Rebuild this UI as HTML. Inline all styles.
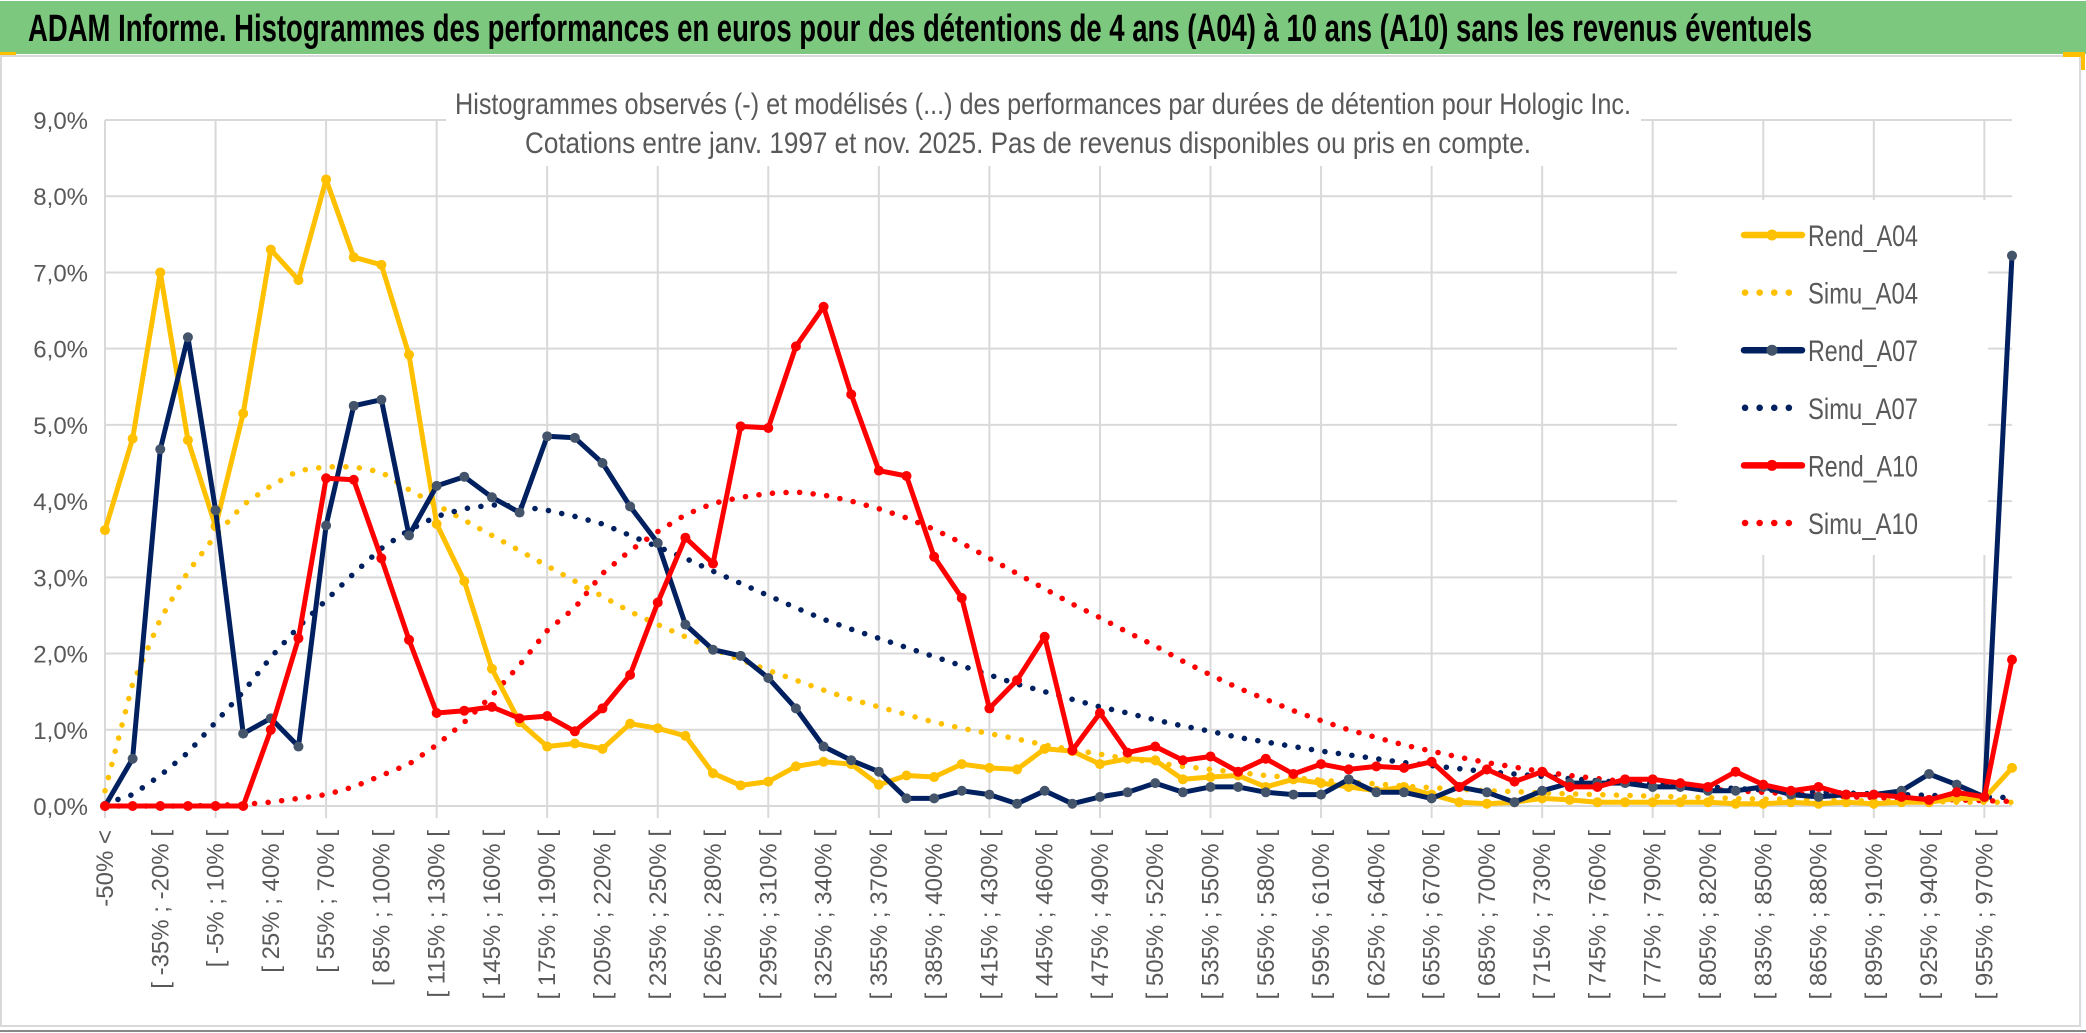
<!DOCTYPE html>
<html><head><meta charset="utf-8"><style>
html,body{margin:0;padding:0;background:#fff;}
svg{display:block;font-family:"Liberation Sans",sans-serif;}
</style></head><body>
<svg id="chart" width="2086" height="1033" viewBox="0 0 2086 1033">
<rect x="0" y="0" width="2086" height="1033" fill="#fff"/>
<rect x="0" y="1" width="2086" height="53" fill="#7DC87F"/>
<text x="28" y="41" font-size="38" font-weight="bold" fill="#000" textLength="1784" lengthAdjust="spacingAndGlyphs">ADAM Informe. Histogrammes des performances en euros pour des détentions de 4 ans (A04) à 10 ans (A10) sans les revenus éventuels</text>
<rect x="1" y="56" width="2079" height="970" fill="none" stroke="#d9d9d9" stroke-width="2"/>
<line x1="0" y1="1031" x2="2086" y2="1031" stroke="#888" stroke-width="2"/>
<rect x="2063" y="52" width="20" height="5" fill="#FFC000"/><rect x="2081" y="52" width="4" height="18" fill="#FFC000"/>
<rect x="0" y="52" width="16" height="3" fill="#FFC000"/>
<g id="grid"></g>
<rect x="446" y="78" width="1195" height="88" fill="#fff"/>
<text x="1043" y="114" font-size="30" fill="#595959" text-anchor="middle" textLength="1176" lengthAdjust="spacingAndGlyphs">Histogrammes observés (-) et modélisés (...) des performances par durées de détention pour Hologic Inc.</text>
<text x="1028" y="153" font-size="30" fill="#595959" text-anchor="middle" textLength="1006" lengthAdjust="spacingAndGlyphs">Cotations entre janv. 1997 et nov. 2025. Pas de revenus disponibles ou pris en compte.</text>
<g id="yaxis"></g>
<g id="xaxis"></g>
<g id="series"></g>
<g id="legend"></g>
</svg>
<script>
const categories = ["-50% <"];
for (let i = 1; i < 69; i++) { categories.push("[ " + (-50 + (i - 1) * 15) + "% ; " + (-50 + i * 15) + "% ["); }
categories.push("> 970%");
const yTicks = [0,1,2,3,4,5,6,7,8,9];
const rendA04 = [3.62,4.82,7.0,4.8,3.67,5.15,7.3,6.9,8.22,7.2,7.1,5.92,3.7,2.95,1.8,1.1,0.78,0.82,0.75,1.08,1.02,0.92,0.43,0.27,0.32,0.52,0.58,0.55,0.28,0.4,0.38,0.55,0.5,0.48,0.75,0.72,0.55,0.62,0.6,0.35,0.38,0.4,0.25,0.35,0.3,0.25,0.2,0.25,0.15,0.05,0.03,0.05,0.1,0.08,0.05,0.05,0.05,0.05,0.05,0.03,0.03,0.05,0.03,0.05,0.03,0.05,0.05,0.1,0.1,0.5];
const simuA04 = [0.2,1.6,2.45,3.07,3.55,3.95,4.2,4.4,4.45,4.45,4.38,4.15,3.95,3.75,3.55,3.35,3.15,2.95,2.75,2.55,2.38,2.22,2.06,1.92,1.78,1.65,1.52,1.4,1.3,1.2,1.1,1.02,0.95,0.88,0.8,0.74,0.68,0.62,0.57,0.52,0.48,0.44,0.4,0.37,0.34,0.31,0.29,0.26,0.24,0.22,0.2,0.19,0.17,0.16,0.15,0.14,0.13,0.12,0.11,0.1,0.09,0.09,0.08,0.07,0.07,0.06,0.06,0.05,0.05,0.05];
const rendA07 = [0.0,0.62,4.68,6.15,3.88,0.95,1.15,0.78,3.68,5.25,5.33,3.55,4.2,4.32,4.05,3.85,4.85,4.83,4.5,3.93,3.45,2.38,2.05,1.97,1.68,1.28,0.78,0.6,0.45,0.1,0.1,0.2,0.15,0.03,0.2,0.03,0.12,0.18,0.3,0.18,0.25,0.25,0.18,0.15,0.15,0.35,0.18,0.18,0.1,0.25,0.18,0.05,0.2,0.3,0.3,0.3,0.25,0.25,0.2,0.2,0.25,0.15,0.12,0.15,0.15,0.2,0.42,0.28,0.12,7.22];
const simuA07 = [0.03,0.15,0.4,0.7,1.1,1.5,1.95,2.35,2.7,3.05,3.38,3.62,3.8,3.9,3.95,3.93,3.88,3.8,3.7,3.55,3.4,3.25,3.08,2.92,2.76,2.6,2.45,2.32,2.2,2.08,1.96,1.84,1.72,1.6,1.5,1.4,1.3,1.22,1.13,1.05,0.98,0.9,0.84,0.78,0.72,0.67,0.62,0.57,0.53,0.49,0.45,0.42,0.39,0.36,0.33,0.31,0.29,0.27,0.25,0.23,0.21,0.2,0.18,0.17,0.16,0.15,0.14,0.13,0.12,0.11];
const rendA10 = [0,0,0,0,0,0,1.0,2.2,4.3,4.28,3.25,2.18,1.22,1.25,1.3,1.15,1.18,0.98,1.28,1.72,2.67,3.52,3.18,4.98,4.96,6.03,6.55,5.4,4.4,4.33,3.27,2.73,1.28,1.65,2.22,0.73,1.22,0.7,0.78,0.6,0.65,0.45,0.62,0.42,0.55,0.48,0.52,0.5,0.58,0.25,0.48,0.32,0.45,0.25,0.25,0.35,0.35,0.3,0.25,0.45,0.28,0.2,0.25,0.15,0.15,0.12,0.08,0.18,0.12,1.92];
const simuA10 = [0,0,0,0,0.01,0.02,0.05,0.1,0.15,0.25,0.4,0.55,0.8,1.1,1.45,1.85,2.3,2.6,3.05,3.35,3.6,3.82,3.97,4.05,4.1,4.12,4.08,4.0,3.9,3.78,3.63,3.45,3.25,3.05,2.85,2.65,2.47,2.28,2.1,1.9,1.72,1.55,1.4,1.25,1.12,1.0,0.9,0.8,0.72,0.64,0.57,0.51,0.45,0.4,0.36,0.32,0.28,0.25,0.22,0.2,0.18,0.16,0.14,0.12,0.11,0.1,0.09,0.08,0.07,0.06];

const NS = "http://www.w3.org/2000/svg";
const X0 = 105, X1 = 2012, Y0 = 806, YTOP = 120, YMAX = 9;
function xPos(i){ return X0 + i * (X1 - X0) / (categories.length - 1); }
function yPos(v){ return Y0 - v / YMAX * (Y0 - YTOP); }
function mk(tag, attrs, parent){ const e = document.createElementNS(NS, tag); for (const k in attrs) e.setAttribute(k, attrs[k]); parent.appendChild(e); return e; }

const grid = document.getElementById("grid");
yTicks.forEach(t => {
  const l = mk("line", {x1:X0, x2:X1, y1:yPos(t), y2:yPos(t), stroke:"#d9d9d9", "stroke-width":2}, grid);
  
  
});
for (let i = 0; i < categories.length; i += 4) {
  const l = mk("line", {x1:xPos(i), x2:xPos(i), y1:YTOP, y2:Y0 + 12, stroke:"#d9d9d9", "stroke-width":2}, grid);
  
  
}
const yaxis = document.getElementById("yaxis");
yTicks.forEach(t => {
  const tx = mk("text", {x:88, y:yPos(t) + 9, "font-size":24, fill:"#595959", "text-anchor":"end"}, yaxis);
  tx.textContent = t.toFixed(1).replace(".", ",") + "%";
  
  
});
const xaxis = document.getElementById("xaxis");
for (let i = 0; i < categories.length; i += 2) {
  const x = xPos(i) + 8, y = 830;
  const tx = mk("text", {x:x, y:y, "font-size":24, fill:"#595959", "text-anchor":"end", transform:"rotate(-90 " + x + " " + y + ")"}, xaxis);
  tx.textContent = categories[i];
  
  
}
const lg = document.getElementById("legend");
const lbg = mk("rect", {x:1677, y:200, width:311, height:355, fill:"#fff"}, lg);



const series = document.getElementById("series");
function pts(vals){ return vals.map((v,i) => xPos(i).toFixed(1) + "," + yPos(v).toFixed(1)).join(" "); }
function drawSim(vals, color, name){
  const p = mk("polyline", {points:pts(vals), fill:"none", stroke:color, "stroke-width":5.5, "stroke-linecap":"round", "stroke-dasharray":"0.1 13.5"}, series);
  
  
}
function drawRend(vals, color, mcolor, name){
  const g = mk("g", {}, series);
  
  
  const p = mk("polyline", {points:pts(vals), fill:"none", stroke:color, "stroke-width":5, "stroke-linejoin":"round"}, g);
  
  
  vals.forEach((v,i) => {
    const c = mk("circle", {cx:xPos(i), cy:yPos(v), r:5, fill:mcolor}, g);
    
    
  });
}
drawSim(simuA04, "#FFC000", "simu-a04");
drawSim(simuA07, "#002060", "simu-a07");
drawSim(simuA10, "#FF0000", "simu-a10");
drawRend(rendA04, "#FFC000", "#FFC000", "rend-a04");
drawRend(rendA07, "#002060", "#44546A", "rend-a07");
drawRend(rendA10, "#FF0000", "#FF0000", "rend-a10");

const legendItems = [["Rend_A04","#FFC000","#FFC000",false],["Simu_A04","#FFC000",null,true],["Rend_A07","#002060","#44546A",false],["Simu_A07","#002060",null,true],["Rend_A10","#FF0000","#FF0000",false],["Simu_A10","#FF0000",null,true]];
legendItems.forEach((it, k) => {
  const y = 235 + k * 57.6;
  const g = mk("g", {}, lg);
  
  
  if (it[3]) {
    mk("line", {x1:1745, x2:1800, y1:y, y2:y, stroke:it[1], "stroke-width":6.5, "stroke-linecap":"round", "stroke-dasharray":"0.1 14.5"}, g);
  } else {
    mk("line", {x1:1744, x2:1802, y1:y, y2:y, stroke:it[1], "stroke-width":6.5, "stroke-linecap":"round"}, g);
    mk("circle", {cx:1772, cy:y, r:5.5, fill:it[2]}, g);
  }
  const tx = mk("text", {x:1808, y:y + 11, "font-size":30, fill:"#595959", textLength:"110", lengthAdjust:"spacingAndGlyphs"}, g);
  tx.textContent = it[0];
});
</script>
</body></html>
